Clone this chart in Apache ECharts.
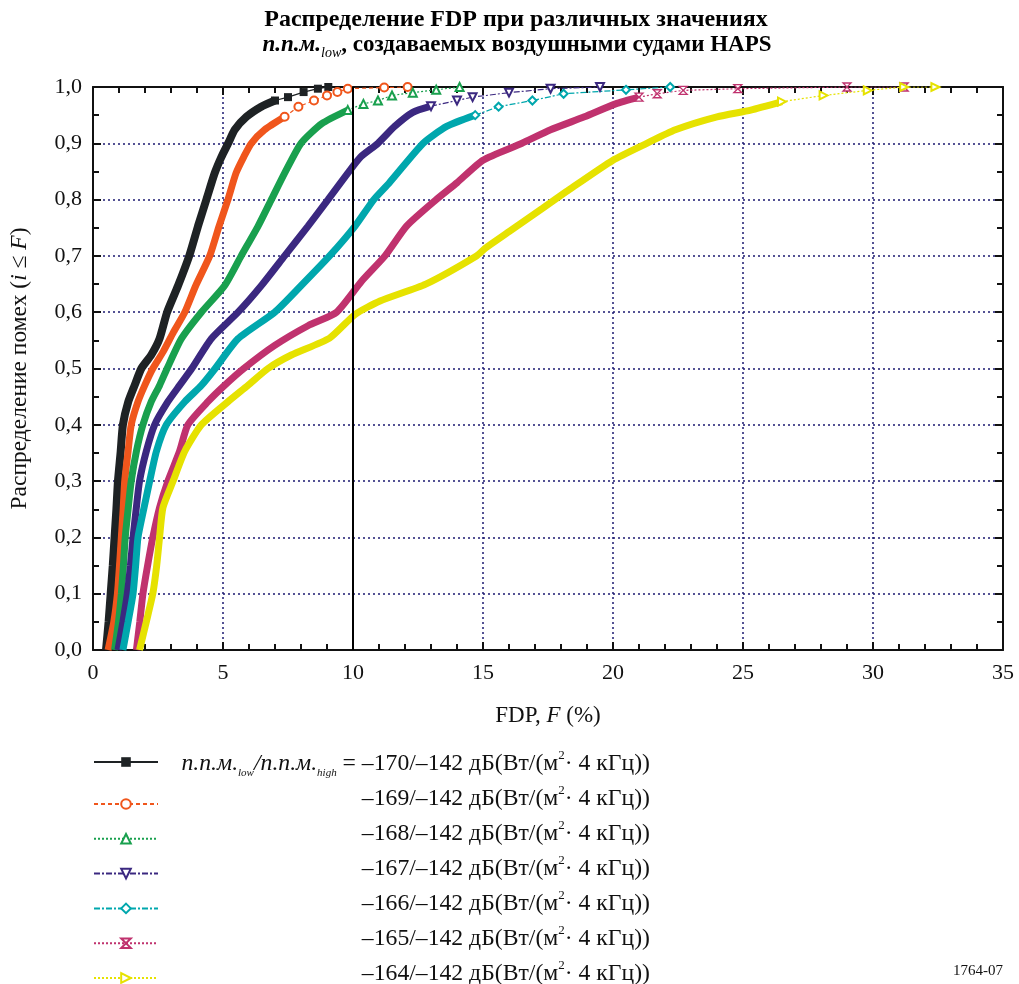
<!DOCTYPE html>
<html>
<head>
<meta charset="utf-8">
<script src="https://cdn.jsdelivr.net/npm/echarts@6/dist/echarts.min.js"></script>
<style>
html,body{margin:0;padding:0;background:#fff;}
#chart{width:1019px;height:984px;}
</style>
</head>
<body>
<div id="chart"></div>
<script>
// ---- data: [FDP F (%), cumulative distribution P] ----
const curve170 = [[0.5,0],[0.6,0.05],[0.68,0.1],[0.76,0.15],[0.83,0.2],[0.9,0.25],[0.96,0.3],[1.06,0.35],[1.15,0.4],[1.35,0.44],[1.6,0.47],[1.86,0.5],[2.24,0.524],[2.56,0.553],[2.85,0.6],[3.27,0.647],[3.7,0.7],[4.04,0.753],[4.36,0.8],[4.68,0.847],[4.94,0.876],[5.2,0.9],[5.45,0.924],[5.9,0.947],[6.47,0.965],[7.0,0.976],[7.5,0.982],[8.1,0.991],[8.65,0.997],[9.05,1.0]];
const curve169 = [[0.58,0],[0.8,0.05],[0.94,0.1],[1.02,0.15],[1.09,0.2],[1.16,0.25],[1.22,0.3],[1.35,0.353],[1.47,0.4],[1.73,0.441],[1.99,0.47],[2.3,0.5],[2.7,0.53],[3.1,0.565],[3.53,0.6],[3.95,0.647],[4.49,0.7],[4.85,0.753],[5.19,0.8],[5.5,0.847],[5.8,0.876],[6.09,0.9],[6.6,0.924],[7.37,0.947],[7.9,0.965],[8.5,0.976],[9.0,0.985],[9.4,0.991],[9.8,0.997],[11.2,0.999],[12.1,1.0]];
const curve168 = [[0.83,0],[0.98,0.05],[1.09,0.1],[1.17,0.15],[1.24,0.2],[1.35,0.25],[1.47,0.3],[1.67,0.353],[1.92,0.4],[2.24,0.441],[2.56,0.47],[2.85,0.5],[3.4,0.553],[4.17,0.6],[5.06,0.647],[5.7,0.7],[6.35,0.753],[6.86,0.8],[7.37,0.847],[8.0,0.9],[8.8,0.935],[9.8,0.959],[10.4,0.97],[10.96,0.976],[11.5,0.985],[12.3,0.99],[13.2,0.995],[14.1,1.0]];
const curve167 = [[0.96,0],[1.15,0.05],[1.32,0.1],[1.44,0.15],[1.54,0.2],[1.66,0.25],[1.79,0.3],[2.05,0.353],[2.37,0.4],[2.88,0.441],[3.33,0.47],[3.8,0.5],[4.55,0.553],[5.58,0.6],[6.47,0.647],[7.37,0.7],[8.27,0.753],[9.04,0.8],[9.8,0.847],[10.3,0.876],[10.96,0.9],[11.6,0.93],[12.3,0.955],[13.0,0.966],[14.0,0.976],[14.6,0.982],[16.0,0.99],[17.6,0.997],[19.5,1.0]];
const curve166 = [[1.15,0],[1.35,0.05],[1.54,0.1],[1.64,0.15],[1.73,0.2],[1.95,0.25],[2.18,0.3],[2.44,0.353],[2.82,0.4],[3.53,0.441],[4.17,0.47],[4.7,0.5],[5.58,0.553],[6.99,0.6],[8.0,0.647],[9.1,0.7],[10.08,0.753],[10.8,0.8],[11.4,0.83],[12.7,0.9],[13.6,0.93],[14.7,0.95],[15.6,0.965],[16.9,0.976],[18.1,0.988],[20.5,0.995],[22.2,1.0]];
const curve165 = [[1.67,0],[1.8,0.05],[1.92,0.1],[2.1,0.15],[2.3,0.2],[2.56,0.253],[2.88,0.3],[3.33,0.353],[3.65,0.4],[4.42,0.441],[5.06,0.47],[5.8,0.5],[6.99,0.541],[8.27,0.576],[9.37,0.6],[10.33,0.655],[11.23,0.7],[12.06,0.753],[13.2,0.8],[14.0,0.83],[15.0,0.87],[16.5,0.9],[17.6,0.924],[18.9,0.947],[20.1,0.97],[21.0,0.982],[21.7,0.988],[22.7,0.994],[24.8,0.997],[29.0,1.0],[31.2,1.0]];
const curve164 = [[1.79,0],[2.05,0.05],[2.3,0.1],[2.45,0.15],[2.56,0.2],[2.69,0.253],[3.08,0.3],[3.53,0.353],[4.17,0.4],[5.19,0.441],[5.96,0.47],[6.73,0.5],[7.63,0.524],[9.1,0.554],[10.08,0.596],[11.04,0.62],[12.8,0.65],[14.75,0.7],[15.1,0.714],[16.0,0.743],[17.3,0.785],[18.2,0.814],[20.0,0.87],[21.3,0.9],[22.4,0.924],[24.0,0.947],[25.3,0.959],[26.5,0.974],[28.1,0.985],[29.8,0.994],[31.2,1.0],[32.4,1.0]];

const pfdLow = ['–170','–169','–168','–167','–166','–165','–164'];
const pfdHigh = '–142';
const xTicks = {min:0, max:35, interval:5};
const yTicks = {min:0, max:1, interval:0.1};
const refLineF = 10;

const FONT = 'Liberation Serif';
const NAVY = '#1c1a72';

const defs = [
  {data:curve170, cut:0.976, color:'#1e2224', type:'solid',  symbol:'rect', rot:0, fill:true, w:8},
  {data:curve169, cut:0.947, color:'#f0561c', type:[4,3],    symbol:'emptyCircle', rot:0},
  {data:curve168, cut:0.959, color:'#19a04e', type:[2,2],    symbol:'emptyTriangle', rot:0},
  {data:curve167, cut:0.966, color:'#3b2880', type:[6,2,2,2],symbol:'emptyTriangle', rot:180},
  {data:curve166, cut:0.95,  color:'#00a7ad', type:[6,2,2,2],symbol:'emptyDiamond', rot:0},
  {data:curve165, cut:0.982, color:'#c0326e', type:[2,2],    symbol:'path://M0,0L10,0L0,10L10,10Z', rot:0, hollowPath:true},
  {data:curve164, cut:0.974, color:'#e6e200', type:[2,2],    symbol:'emptyTriangle', rot:-90}
];

const series = [];
const legendNames = [];
defs.forEach((d, i) => {
  const name = pfdLow[i] + '/' + pfdHigh;
  legendNames.push(name);
  let k = d.data.findIndex(p => p[1] >= d.cut);
  if (k < 0) k = d.data.length - 1;
  const body = d.data.slice(0, k + 1);
  const tail = d.data.slice(k);
  const bodySeries = {
    type:'line', name: name + ' body', data: body, showSymbol:false, smooth:0.2,
    lineStyle:{color:d.color, width:d.w || 7}, itemStyle:{color:d.color}, z:2, silent:true
  };
  if (i === 0) {
    bodySeries.markLine = {
      silent:true, symbol:['none','none'], label:{show:false},
      lineStyle:{color:'#000', width:2, type:'solid'},
      data:[{xAxis: refLineF}]
    };
  }
  series.push(bodySeries);
  series.push({
    type:'line', name: name, data: tail, showSymbol:true, showAllSymbol:true,
    symbol:d.symbol, symbolSize:8, symbolRotate:d.rot,
    lineStyle:{color:d.color, width:1.2, type:d.type},
    itemStyle: d.fill ? {color:d.color} :
      (d.hollowPath ? {color:'#fff', borderColor:d.color, borderWidth:1.3} : {color:d.color, borderWidth:1.3}),
    z:3, silent:true
  });
});

function fmtY(v){ return v.toFixed(1).replace('.', ','); }

const axisCommon = {
  type:'value',
  axisLine:{show:true, onZero:false, lineStyle:{color:'#111', width:2}},
  axisTick:{show:true, inside:true, length:8, lineStyle:{color:'#111', width:2}},
  minorTick:{show:true, length:6, lineStyle:{color:'#111', width:2}},
  minorSplitLine:{show:false}
};

const LF = 23.7;
const richLegend = {
  n:{fontFamily:FONT, fontSize:LF, fill:'#111', lineHeight:30},
  i:{fontFamily:FONT, fontSize:LF, fill:'#111', fontStyle:'italic', lineHeight:30},
  isub:{fontFamily:FONT, fontSize:11, fill:'#111', fontStyle:'italic', verticalAlign:'bottom', lineHeight:11},
  sup:{fontFamily:FONT, fontSize:13, fill:'#111', verticalAlign:'top', lineHeight:13}
};

const textRowY = [764, 799, 834, 869, 904, 939, 974];
const graphics = [
  {type:'text', style:{x:516, y:20, text:'Распределение FDP при различных значениях', textAlign:'center', textVerticalAlign:'middle', fontFamily:FONT, fontSize:24, fontWeight:'bold', fill:'#000'}},
  {type:'text', style:{x:517, y:45, textAlign:'center', textVerticalAlign:'middle',
    text:'{bi|п.п.м.}{bisub|low}{b|, создаваемых воздушными судами HAPS}',
    rich:{
      b:{fontFamily:FONT, fontSize:23, fontWeight:'bold', fill:'#000', lineHeight:30},
      bi:{fontFamily:FONT, fontSize:23, fontWeight:'bold', fontStyle:'italic', fill:'#000', lineHeight:30},
      bisub:{fontFamily:FONT, fontSize:14, fontStyle:'italic', fill:'#000', verticalAlign:'bottom', lineHeight:14}
    }}},
  {type:'text', style:{x:1003, y:971, text:'1764-07', textAlign:'right', textVerticalAlign:'middle', fontFamily:FONT, fontSize:15, fill:'#111'}}
];
pfdLow.forEach((v, i) => {
  const unit = '{n| дБ(Вт/(м}{sup|2}{n|· 4 кГц))}';
  const txt = i === 0
    ? '{i|п.п.м.}{isub|low}{i|/п.п.м.}{isub|high}{n| = ' + v + '/' + pfdHigh + '}' + unit
    : '{n|' + v + '/' + pfdHigh + '}' + unit;
  graphics.push({type:'text', style:{x:650, y:textRowY[i], text:txt, textAlign:'right', textVerticalAlign:'middle', rich:richLegend}});
});

const legendCommon = {
  show:true, orient:'vertical', left:93, padding:0, height:300,
  itemWidth:64, itemHeight:12, itemGap:23,
  formatter:() => '', selectedMode:false, textStyle:{fontSize:1}
};

const option = {
  animation:false,
  backgroundColor:'#fff',
  textStyle:{fontFamily:FONT},
  grid:{left:93, right:16, top:87, bottom:334, containLabel:false},
  legend:[
    Object.assign({}, legendCommon, {top:756, data:legendNames.slice(0,1)}),
    Object.assign({}, legendCommon, {top:798, data:legendNames.slice(1)})
  ],
  xAxis:[
    Object.assign({}, axisCommon, {
      min:xTicks.min, max:xTicks.max, interval:xTicks.interval, position:'bottom',
      minorTick:Object.assign({}, axisCommon.minorTick, {splitNumber:5}),
      splitLine:{show:true, lineStyle:{color:NAVY, type:[2,3], width:1.5}},
      axisLabel:{fontFamily:FONT, fontSize:22, color:'#111', margin:12},
      name:'{n|FDP, }{i|F}{n| (%)}', nameLocation:'middle', nameGap:54,
      nameTextStyle:{rich:{
        n:{fontFamily:FONT, fontSize:23, color:'#111'},
        i:{fontFamily:FONT, fontSize:23, color:'#111', fontStyle:'italic'}
      }}
    }),
    Object.assign({}, axisCommon, {
      min:xTicks.min, max:xTicks.max, interval:xTicks.interval, position:'top',
      minorTick:Object.assign({}, axisCommon.minorTick, {splitNumber:5}),
      splitLine:{show:false}, axisLabel:{show:false}
    })
  ],
  yAxis:[
    Object.assign({}, axisCommon, {
      min:yTicks.min, max:yTicks.max, interval:yTicks.interval, position:'left',
      minorTick:Object.assign({}, axisCommon.minorTick, {splitNumber:2}),
      splitLine:{show:true, lineStyle:{color:NAVY, type:[2,3], width:1.5}},
      axisLabel:{fontFamily:FONT, fontSize:22, color:'#111', margin:11, formatter:fmtY},
      name:'{n|Распределение помех (}{i|i}{n| ≤ }{i|F}{n|)}', nameLocation:'middle', nameGap:61, nameRotate:90,
      nameTextStyle:{rich:{
        n:{fontFamily:FONT, fontSize:23.5, color:'#111'},
        i:{fontFamily:FONT, fontSize:23.5, color:'#111', fontStyle:'italic'}
      }}
    }),
    Object.assign({}, axisCommon, {
      min:yTicks.min, max:yTicks.max, interval:yTicks.interval, position:'right',
      minorTick:Object.assign({}, axisCommon.minorTick, {splitNumber:2}),
      splitLine:{show:false}, axisLabel:{show:false}
    })
  ],
  series:series,
  graphic:graphics
};

const chart = echarts.init(document.getElementById('chart'), null, {renderer:'canvas'});
chart.setOption(option);
</script>
</body>
</html>
